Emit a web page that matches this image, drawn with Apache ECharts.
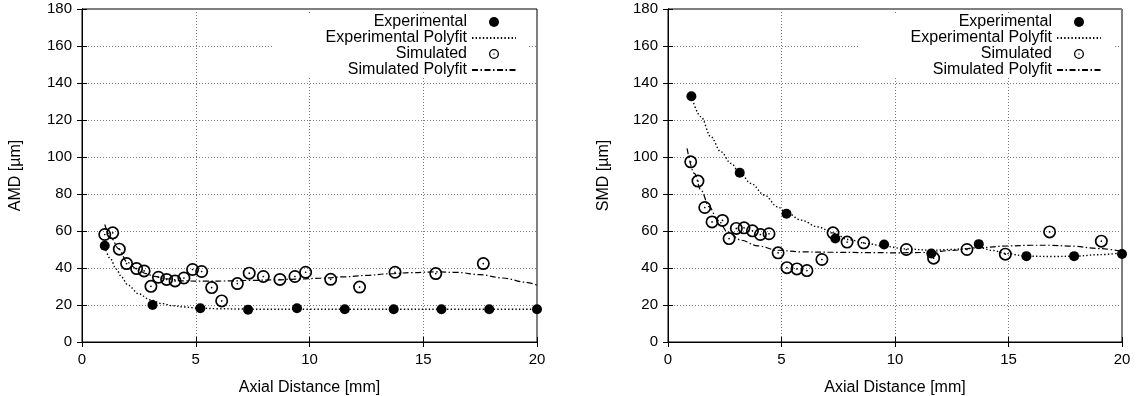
<!DOCTYPE html>
<html><head><meta charset="utf-8">
<script src="https://cdn.jsdelivr.net/npm/echarts@6/dist/echarts.min.js"></script>
<style>html,body{margin:0;padding:0;background:#fff}#c{width:1146px;height:396px}</style>
</head><body><div id="c"></div>
<script>
// ---------- data ----------
const seriesNames = ['Experimental', 'Experimental Polyfit', 'Simulated', 'Simulated Polyfit'];
const yTitles = ['AMD [µm]', 'SMD [µm]'];
const xTitle = 'Axial Distance [mm]';

// AMD panel
const amdExpX = [1.0, 3.1, 5.2, 7.3, 9.45, 11.55, 13.7, 15.8, 17.9, 20.0];
const amdExpY = [52, 20, 18.2, 17.5, 18.2, 17.7, 17.7, 17.7, 17.7, 17.7];
const amdSimX = [1.0, 1.35, 1.64, 1.96, 2.40, 2.73, 3.03, 3.36, 3.72, 4.09, 4.48, 4.86, 5.26, 5.70, 6.14, 6.83, 7.35, 7.97, 8.70, 9.36, 9.83, 10.93, 12.2, 13.76, 15.55, 17.64];
const amdSimY = [58.1, 59, 50.2, 42.4, 39.7, 38.4, 30.1, 35, 33.8, 33, 34.6, 39.2, 38.1, 29.4, 22.2, 31.6, 37.2, 35.4, 33.8, 35.4, 37.7, 33.9, 29.7, 37.7, 37, 42.4];
const amdExpFitX = [1.0, 1.25, 1.5, 1.75, 2.0, 2.5, 3.0, 3.5, 4.0, 4.5, 5.0, 6.0, 7.0, 8.0, 10, 12, 14, 16, 18, 20];
const amdExpFitY = [51.5, 45, 39.5, 35, 31, 26, 22.8, 20.8, 19.6, 18.9, 18.4, 18, 17.8, 17.7, 17.7, 17.7, 17.7, 17.7, 17.7, 17.7];
const amdSimFitX = [1.0, 1.3, 1.6, 2.0, 2.4, 2.8, 3.2, 3.7, 4.5, 5.5, 6.5, 7.5, 8.5, 9.5, 10.5, 11.5, 12.5, 13.5, 14.5, 15.5, 16.5, 17.5, 18.5, 19.5, 20];
const amdSimFitY = [63.5, 56, 50.5, 43, 39.5, 37, 35.5, 34.2, 33, 32.9, 33, 33.3, 33.6, 34, 34.5, 35.2, 36, 36.9, 37.5, 37.9, 37.6, 36.4, 34.6, 32.3, 30.7];

// SMD panel
const smdExpX = [1.03, 3.16, 5.22, 7.37, 9.52, 11.6, 13.69, 15.79, 17.89, 20.0];
const smdExpY = [132.8, 91.5, 69.3, 55.9, 52.7, 47.8, 52.9, 46.4, 46.4, 47.6];
const smdSimX = [1.0, 1.32, 1.62, 1.94, 2.40, 2.69, 3.01, 3.35, 3.72, 4.07, 4.45, 4.85, 5.24, 5.68, 6.12, 6.78, 7.27, 7.89, 8.62, 10.5, 11.7, 13.17, 14.86, 16.81, 19.09];
const smdSimY = [97.4, 87, 72.7, 64.9, 65.7, 55.9, 61.4, 61.7, 60.1, 58.1, 58.5, 48.2, 40.2, 39.5, 38.6, 44.6, 59, 54, 53.6, 50, 45.3, 50, 47.5, 59.5, 54.5];
const smdExpFitX = [1.03, 1.45, 1.89, 2.33, 2.78, 3.16, 3.66, 4.25, 4.83, 5.22, 5.86, 6.6, 7.33, 7.92, 8.8, 9.5, 10.5, 11.6, 12.5, 13.15, 13.73, 14.3, 14.9, 15.8, 17.0, 17.9, 19.0, 20.0];
const smdExpFitY = [132.8, 121.8, 110.9, 102.8, 96.5, 91.5, 85.7, 79.4, 73, 70, 65.9, 62.2, 58.7, 55.4, 53.2, 51.8, 50.3, 49.6, 50, 50.5, 51, 49.5, 47.8, 46.4, 46.2, 46.4, 47.2, 48.2];
const smdSimFitX = [0.84, 1.16, 1.45, 1.82, 2.19, 2.63, 3.22, 3.95, 4.83, 5.86, 7.33, 9.0, 10.1, 11.5, 12.5, 13.7, 15.0, 16.0, 16.8, 17.8, 19.0, 20.0];
const smdSimFitY = [104.7, 91.1, 82.1, 73, 65.9, 59.5, 55, 52, 49.6, 48.7, 48.5, 48.3, 48.2, 48.4, 49.5, 51, 51.9, 52.3, 52.3, 51.8, 50.5, 49];

const xMin = 0, xMax = 20, xStep = 5;
const yMin = 0, yMax = 180, yStep = 20;

// ---------- chart ----------
const FONT = 'Liberation Sans';
const ring = 'path://M10,0 A10,10 0 1,1 10,20 A10,10 0 1,1 10,0 Z M10,2.6 A7.4,7.4 0 1,0 10,17.4 A7.4,7.4 0 1,0 10,2.6 Z M10,8.7 A1.3,1.3 0 1,1 10,11.3 A1.3,1.3 0 1,1 10,8.7 Z';
const pts = (xs, ys) => xs.map((x, i) => [x, ys[i]]);

const panels = [
  { exp: pts(amdExpX, amdExpY), expFit: pts(amdExpFitX, amdExpFitY), sim: pts(amdSimX, amdSimY), simFit: pts(amdSimFitX, amdSimFitY) },
  { exp: pts(smdExpX, smdExpY), expFit: pts(smdExpFitX, smdExpFitY), sim: pts(smdSimX, smdSimY), simFit: pts(smdSimFitX, smdSimFitY) }
];
const grids = [
  { left: 82, top: 9, width: 455, height: 333 },
  { left: 668, top: 9, width: 454, height: 333 }
];
const nameGaps = [58, 56];

const xAxis = [], yAxis = [], series = [], legend = [], graphicEls = [];
const lineAxis = { show: true, lineStyle: { color: '#000', width: 1 } };
const tick = { inside: true, length: 5, lineStyle: { color: '#000' } };
const split = { show: true, lineStyle: { type: [1, 2], color: '#7a7a7a' } };

panels.forEach((p, g) => {
  xAxis.push({
    type: 'value', gridIndex: g, min: xMin, max: xMax, interval: xStep,
    name: xTitle, nameLocation: 'middle', nameGap: 38,
    nameTextStyle: { fontFamily: FONT, fontSize: 16, color: '#000' },
    axisLine: lineAxis, axisTick: tick,
    axisLabel: { fontFamily: FONT, fontSize: 15, color: '#000', margin: 10 },
    splitLine: split
  });
  xAxis.push({
    type: 'value', gridIndex: g, position: 'top', min: xMin, max: xMax, interval: xStep,
    axisLine: lineAxis, axisTick: tick, axisLabel: { show: false }, splitLine: { show: false }
  });
  yAxis.push({
    type: 'value', gridIndex: g, min: yMin, max: yMax, interval: yStep,
    name: yTitles[g], nameLocation: 'middle', nameGap: nameGaps[g], nameRotate: 90,
    nameTextStyle: { fontFamily: FONT, fontSize: 16, color: '#000' },
    axisLine: lineAxis, axisTick: tick,
    axisLabel: { fontFamily: FONT, fontSize: 15, color: '#000', margin: 10 },
    splitLine: split
  });
  yAxis.push({
    type: 'value', gridIndex: g, position: 'right', min: yMin, max: yMax, interval: yStep,
    axisLine: lineAxis, axisTick: tick, axisLabel: { show: false }, splitLine: { show: false }
  });
  const xi = 2 * g, yi = 2 * g;
  series.push({
    name: seriesNames[1], type: 'line', xAxisIndex: xi, yAxisIndex: yi, data: p.expFit,
    symbol: 'none', smooth: 0.35, smoothMonotone: 'x', z: 2,
    lineStyle: { color: '#000', width: 1.4, type: [1.4, 2.2] }, itemStyle: { color: 'rgba(0,0,0,0)' }
  });
  series.push({
    name: seriesNames[3], type: 'line', xAxisIndex: xi, yAxisIndex: yi, data: p.simFit,
    symbol: 'none', smooth: 0.35, smoothMonotone: 'x', z: 2,
    lineStyle: { color: '#000', width: 1.2, type: [6, 2.5, 1.5, 2.5] }, itemStyle: { color: 'rgba(0,0,0,0)' }
  });
  series.push({
    name: seriesNames[0], type: 'scatter', xAxisIndex: xi, yAxisIndex: yi, data: p.exp,
    symbol: 'circle', symbolSize: 10, z: 3, itemStyle: { color: '#000', opacity: 1 }
  });
  series.push({
    name: seriesNames[2], type: 'scatter', xAxisIndex: xi, yAxisIndex: yi, data: p.sim,
    symbol: ring, symbolSize: 13, z: 3, itemStyle: { color: '#000', opacity: 1 }
  });
  const gr = grids[g];
  const rightEdge = gr.left + gr.width - 20;
  legend.push({
    orient: 'vertical', align: 'right', right: 1146 - rightEdge, top: 14, padding: 0,
    itemWidth: 44, itemHeight: 10, itemGap: 0, selectedMode: false,
    textStyle: { fontFamily: FONT, fontSize: 16, color: '#000', lineHeight: 16 },
    data: [
      { name: seriesNames[0] },
      { name: seriesNames[1], itemStyle: { opacity: 0 } },
      { name: seriesNames[2] },
      { name: seriesNames[3], itemStyle: { opacity: 0 } }
    ]
  });
  graphicEls.push({
    type: 'rect', z: 1, silent: true,
    shape: { x: gr.left + 190, y: 15, width: 255, height: 62 },
    style: { fill: '#fff' }
  });
});

const chart = echarts.init(document.getElementById('c'));
chart.setOption({
  animation: false,
  backgroundColor: '#fff',
  textStyle: { fontFamily: FONT },
  grid: grids.map(g => Object.assign({ show: true, borderColor: '#000', borderWidth: 1, containLabel: false, outerBoundsMode: 'none' }, g)),
  xAxis, yAxis, series, legend,
  graphic: graphicEls
});
</script>
</body></html>
